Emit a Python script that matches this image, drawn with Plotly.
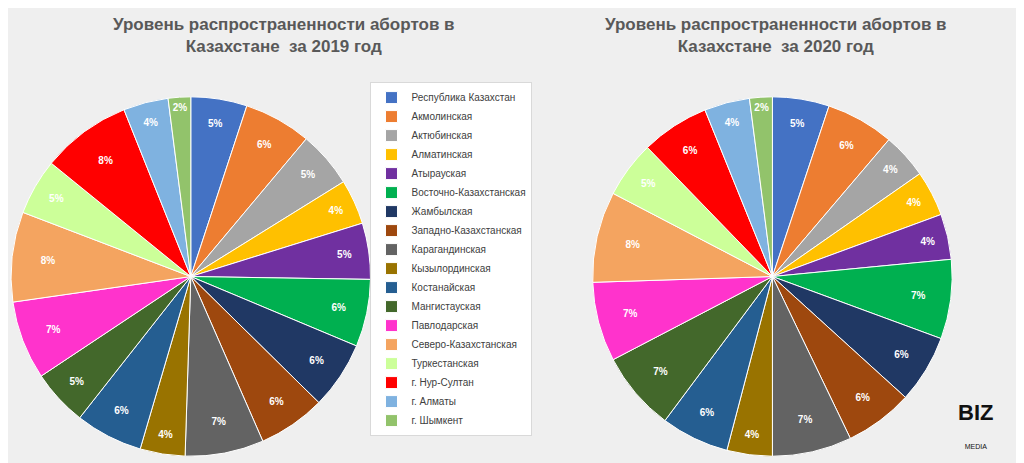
import plotly.graph_objects as go

regions = ["Республика Казахстан", "Акмолинская", "Актюбинская", "Алматинская", "Атырауская",
           "Восточно-Казахстанская", "Жамбылская", "Западно-Казахстанская", "Карагандинская",
           "Кызылординская", "Костанайская", "Мангистауская", "Павлодарская",
           "Северо-Казахстанская", "Туркестанская", "г. Нур-Султан", "г. Алматы", "г. Шымкент"]
values_2019 = [5, 6, 5, 4, 5, 6, 6, 6, 7, 4, 6, 5, 7, 8, 5, 8, 4, 2]
values_2020 = [5, 6, 4, 4, 4, 7, 6, 6, 7, 4, 6, 7, 7, 8, 5, 6, 4, 2]
colors = ["#4472C4", "#ED7D31", "#A5A5A5", "#FFC000", "#7030A0", "#00B050", "#203864",
          "#9E480E", "#636363", "#997300", "#255E91", "#43682B", "#FF33CC",
          "#F4A460", "#CCFF99", "#FF0000", "#7FB2E0", "#92C36B"]

fig = go.Figure()
for vals, dom, show in [(values_2019, [0.003, 0.354], True), (values_2020, [0.571, 0.922], False)]:
    fig.add_trace(go.Pie(
        labels=regions, values=vals, sort=False, direction="clockwise", rotation=0,
        marker=dict(colors=colors, line=dict(color="white", width=1)),
        texttemplate="<b>%{value}%</b>", textposition="inside", insidetextorientation="horizontal",
        textfont=dict(color="white", size=10), showlegend=show,
        domain=dict(x=dom, y=[0.03, 0.81])))

fig.update_layout(
    width=1024, height=463, margin=dict(l=0, r=0, t=0, b=0),
    paper_bgcolor="#EFEFEF", font=dict(family="Liberation Sans"),
    legend=dict(x=0.354, y=0.84, xanchor="left", yanchor="top", bgcolor="white",
                bordercolor="#D9D9D9", borderwidth=1, font=dict(size=10, color="#404040"),
                tracegroupgap=0, itemwidth=30),
    annotations=[
        dict(text="<b>Уровень распространенности абортов в<br>Казахстане  за 2019 год</b>",
             x=0.27, y=0.99, xref="paper", yref="paper", xanchor="center", yanchor="top",
             showarrow=False, font=dict(size=17, color="#595959")),
        dict(text="<b>Уровень распространенности абортов в<br>Казахстане  за 2020 год</b>",
             x=0.75, y=0.99, xref="paper", yref="paper", xanchor="center", yanchor="top",
             showarrow=False, font=dict(size=17, color="#595959")),
        dict(text="<b>BIZ</b><br><span style='font-size:7px'>MEDIA</span>",
             x=0.945, y=0.04, xref="paper", yref="paper", xanchor="center", yanchor="bottom",
             showarrow=False, font=dict(size=22, color="#111111")),
    ],
)
fig.write_html("out.html")
